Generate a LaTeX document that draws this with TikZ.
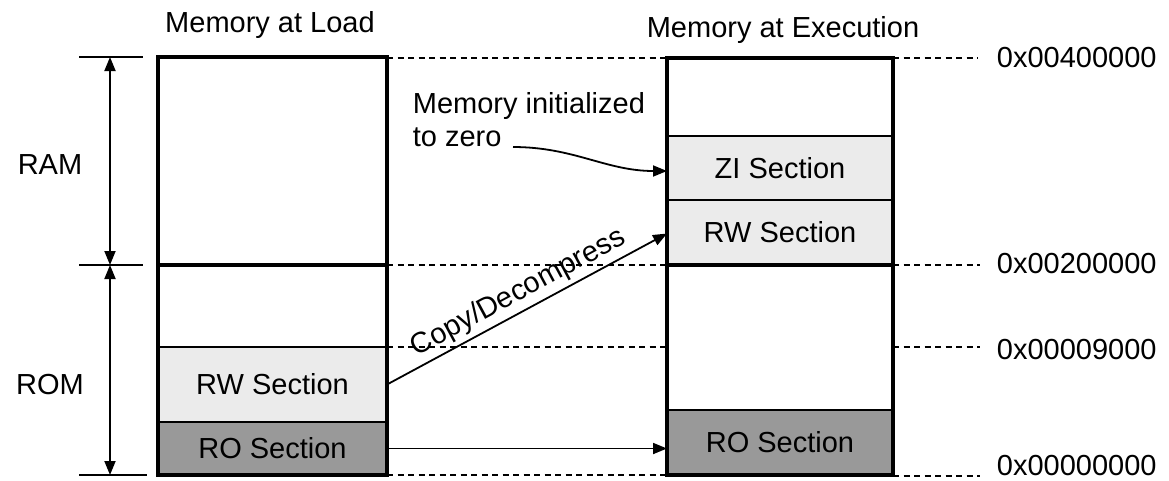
\documentclass[tikz,border=0pt]{standalone}
\usepackage{fontspec}
\setmainfont{Liberation Sans}
\usepackage{tikz}
\usetikzlibrary{arrows.meta}
\definecolor{rwgray}{HTML}{EBEBEB}
\definecolor{rogray}{HTML}{999999}
\tikzset{
  sec/.style={draw,line width=1.4pt,inner sep=0pt,outer sep=0pt,anchor=north west,minimum width=229pt},
  membox/.style={line width=3.2pt},
  addr/.style={dash pattern=on 6pt off 4.5pt,line width=1.3pt},
  tip/.style={-{Triangle[length=14pt,width=11pt]}},
}
\begin{document}
\begin{tikzpicture}[x=1pt,y=-1pt,font=\fontsize{29}{33}\selectfont,line width=1.8pt]
\useasboundingbox (0,0) rectangle (1169,480);
% sections
\node[sec,fill=rwgray,minimum height=75pt] (ldrw) at (158,347) {RW Section};
\node[sec,fill=rogray,minimum height=53pt] (ldro) at (158,422) {RO Section};
\node[sec,fill=rwgray,minimum width=226pt,minimum height=64pt] (exzi) at (667,136) {ZI Section};
\node[sec,fill=rwgray,minimum width=226pt,minimum height=65pt] (exrw) at (667,200) {RW Section};
\node[sec,fill=rogray,minimum width=226pt,minimum height=65pt] (exro) at (667,410) {RO Section};
% memory outlines
\draw[membox] (158,57) rectangle (387,475);
\draw[membox] (667,58) rectangle (893,475);
\draw[membox] (158,265) -- (387,265);
\draw[membox] (667,265) -- (893,265);
\node (ldtitle) at (270,25) {Memory at Load};
\node (extitle) at (783,30) {Memory at Execution};
% address lines
\foreach \y/\a in {58/0x00400000,264/0x00200000,350/0x00009000,466/0x00000000}{
  \node[anchor=west,inner sep=0pt] (a\a) at (996,\y) {\a};
}
\coordinate (c1) at (387,58);  \coordinate (c2) at (387,265);
\coordinate (c3) at (387,347); \coordinate (c4) at (387,475);
\draw[addr] (c1) -- (c1 -| exzi.west) (893,58) -- (978,58);
\draw[addr] (c2) -- (c2 -| exzi.west) (893,265) -- (980,265);
\draw[addr] (c3) -- (c3 -| exzi.west) (893,347) -- (980,347);
\draw[addr] (c4) -- (c4 -| exzi.west) (893,476) -- (980,476);
% RAM / ROM extent
\draw[line width=1.3pt] (79,57) -- (143,57) (79,265) -- (143,265) (79,475) -- (147,475);
\draw[tip] (110,161) -- (110,57);
\draw[tip] (110,161) -- (110,265);
\draw[tip] (110,370) -- (110,265);
\draw[tip] (110,370) -- (110,475);
\node (ram) at (50,165) {RAM};
\node (rom) at (50,385) {ROM};
% copies
\draw[tip] (ldro.east) -- (ldro.east -| exro.west);
\draw[tip] (ldrw.east) -- ([yshift=-1pt]exrw.west)
  node[midway,above,sloped,inner sep=4pt] {Copy/Decompress};
\node[align=left,anchor=north west,inner sep=0pt] (zinote) at (412,92) {Memory initialized\\to zero};
\coordinate (zistart) at (513,147);
\draw[tip] (zistart) to[out=0,in=180] ([yshift=-3pt]exzi.west);
\end{tikzpicture}
\end{document}
